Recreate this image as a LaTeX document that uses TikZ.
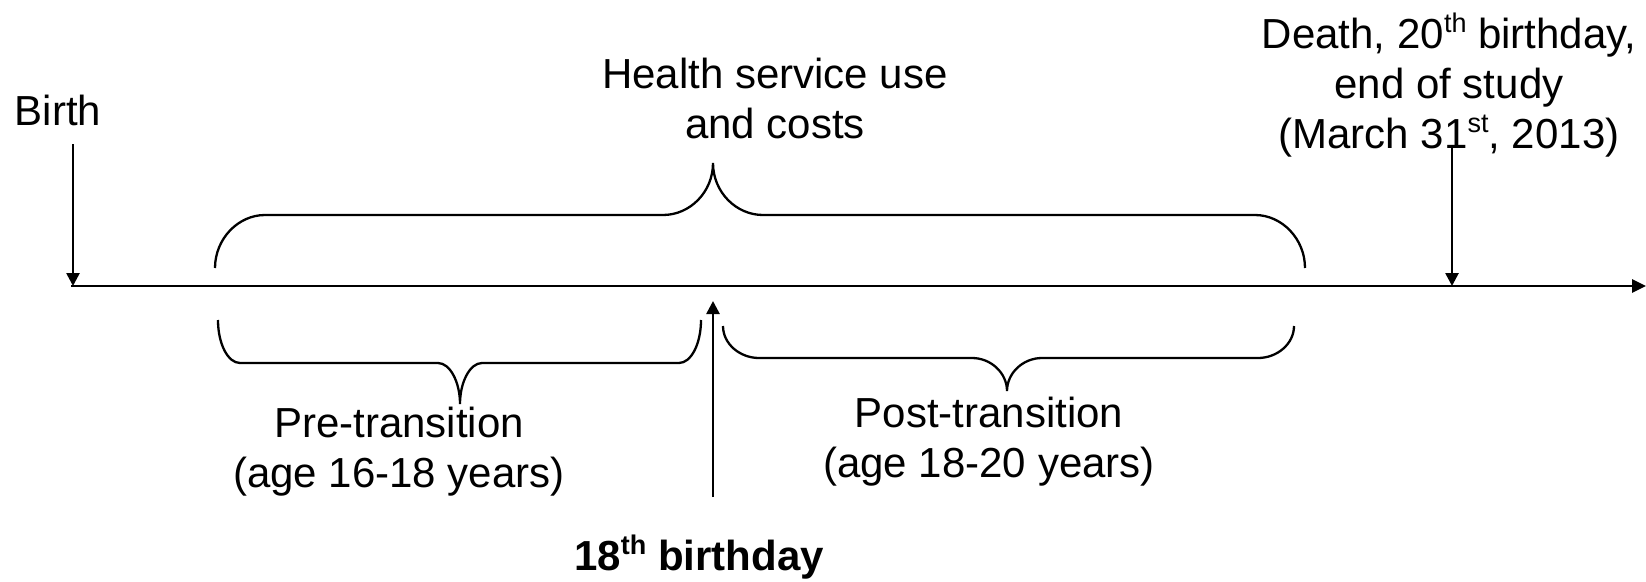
\documentclass[tikz,border=0pt]{standalone}
\usepackage{fontspec}
\setmainfont{Liberation Sans}
\usetikzlibrary{arrows.meta}
\newcommand\mysup[1]{\raisebox{0.36em}{\fontsize{27}{27}\selectfont #1}}
\tikzset{
  lbl/.style={inner sep=0pt, anchor=base, font=\fontsize{42}{50}\selectfont},
  blbl/.style={lbl, font=\fontsize{42}{50}\selectfont\bfseries},
  axis/.style={line width=2.6pt, -{Triangle[width=13pt,length=14pt]}},
  tick/.style={line width=2.6pt, -{Triangle[width=13pt,length=13pt]}},
  brace/.style={line width=2.3pt}
}
\begin{document}
\begin{tikzpicture}[x=1pt,y=-1pt]
\useasboundingbox[fill=white] (0,0) rectangle (1646,581);

% timeline
\coordinate (axisL) at (71,286);
\coordinate (axisR) at (1646,286);
\draw[axis] (axisL) -- (axisR);

% Birth
\node[lbl] (birth) at (58,125) {Birth};
\coordinate (birthTop) at (73,144);
\coordinate (birthPt) at (73,286);
\draw[tick] (birthTop) -- (birthPt);

% Death
\node[lbl] (death1) at (1449,48) {Death, 20\mysup{th} birthday,};
\node[lbl] (death2) at (1449,98) {end of study};
\node[lbl] (death3) at (1449,148) {(March 31\mysup{st}, 2013)};
\coordinate (deathTop) at (1452,147);
\coordinate (deathPt) at (1452,286);
\draw[tick] (deathTop) -- (deathPt);

% Health service use
\node[lbl] (health1) at (775,88) {Health service use};
\node[lbl] (health2) at (775,138) {and costs};
\draw[brace] (215,268) .. controls (215,239) and (238,215) .. (265,215) -- (663,215)
  .. controls (690,215) and (713,192) .. (713,163)
  .. controls (713,192) and (736,215) .. (763,215) -- (1255,215)
  .. controls (1282,215) and (1305,239) .. (1305,268);

% 18th birthday
\node[blbl] (eighteen) at (699,570) {18\mysup{th} birthday};
\coordinate (eBottom) at (713,497);
\coordinate (eTop) at (713,301);
\draw[tick] (eBottom) -- (eTop);

% Pre-transition
\draw[brace] (218,320) .. controls (218,344) and (228,363) .. (240,363) -- (438,363)
  .. controls (450,363) and (460,382) .. (460,404)
  .. controls (460,382) and (470,363) .. (482,363) -- (679,363)
  .. controls (691,363) and (701,344) .. (701,320);
\node[lbl] (pre1) at (399,437) {Pre-transition};
\node[lbl] (pre2) at (399,487) {(age 16-18 years)};

% Post-transition
\draw[brace] (723,326) .. controls (723,344) and (740,358) .. (759,358) -- (972,358)
  .. controls (991,358) and (1007,373) .. (1007,391)
  .. controls (1007,373) and (1023,358) .. (1042,358) -- (1258,358)
  .. controls (1277,358) and (1294,344) .. (1294,326);
\node[lbl] (post1) at (989,427) {Post-transition};
\node[lbl] (post2) at (989,477) {(age 18-20 years)};
\end{tikzpicture}
\end{document}
